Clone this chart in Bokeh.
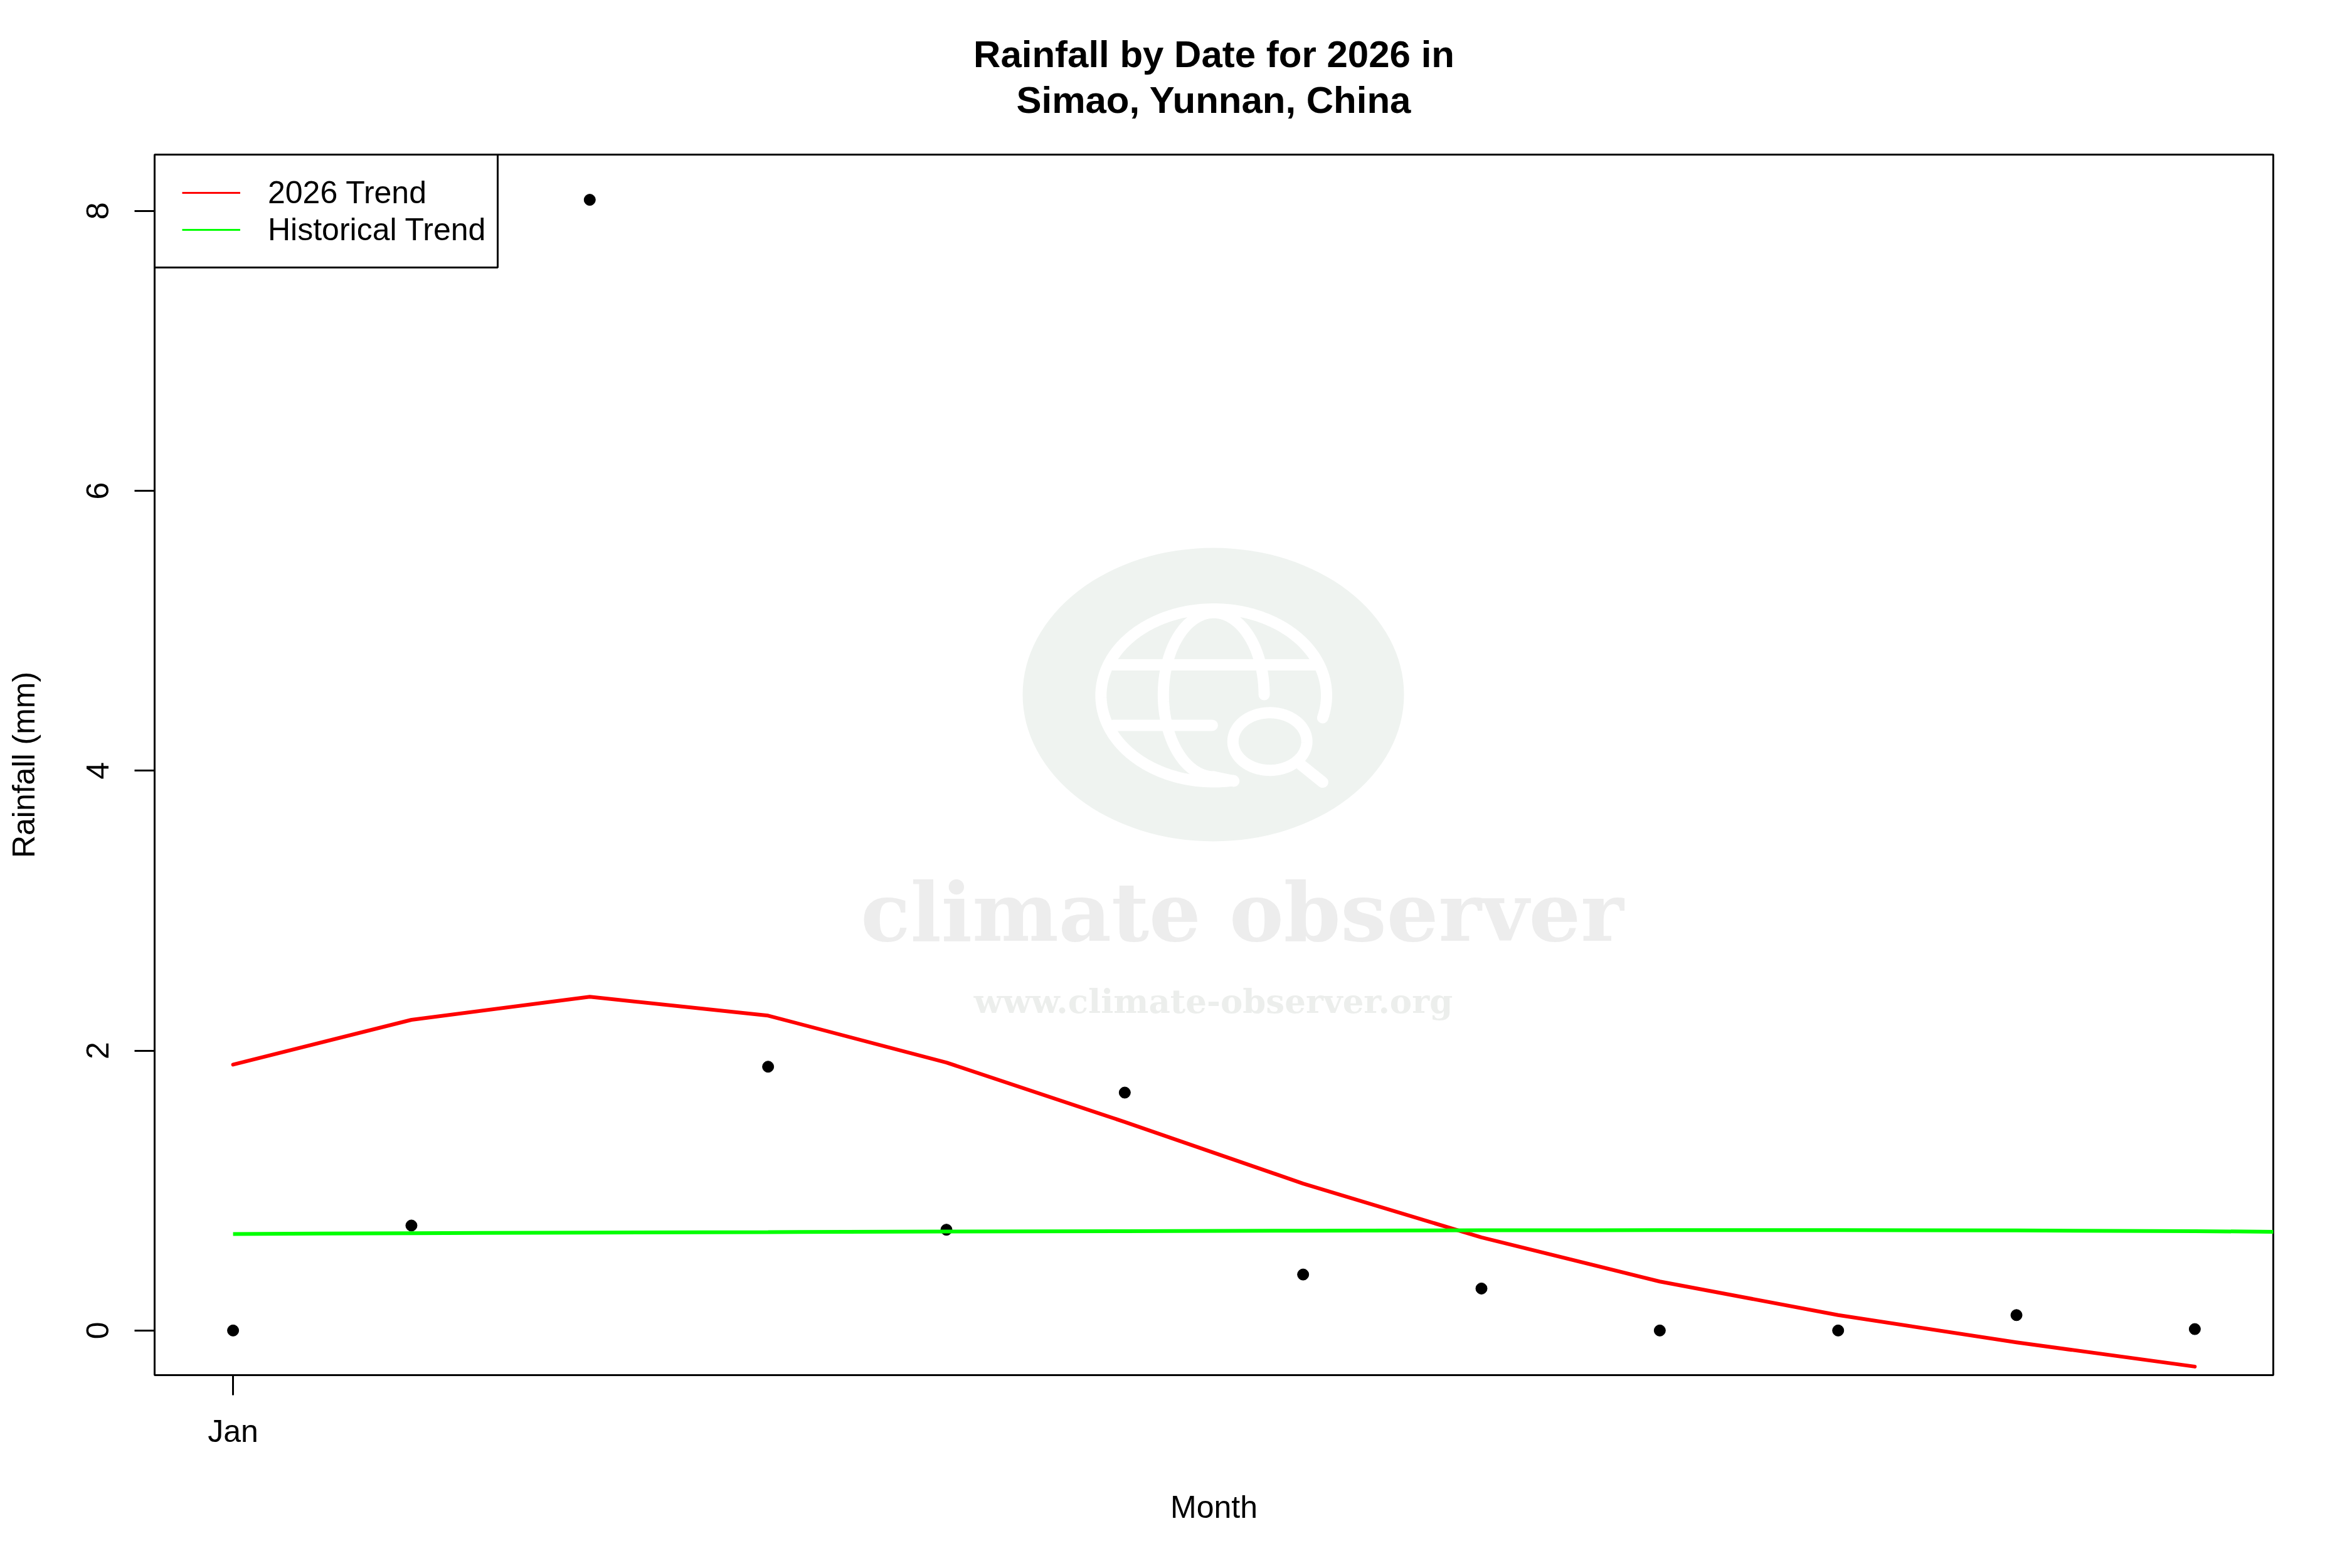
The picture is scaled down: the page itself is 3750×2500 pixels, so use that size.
import numpy as np
from bokeh.core.properties import value
from bokeh.embed import file_html
from bokeh.models import BoxAnnotation, FixedTicker, Legend, LegendItem, Range1d, Title
from bokeh.plotting import figure
from bokeh.resources import INLINE

TITLE_LINES = ["Rainfall by Date for 2026 in", "Simao, Yunnan, China"]
months = ["Jan", "Feb", "Mar", "Apr", "May", "Jun", "Jul", "Aug", "Sep", "Oct", "Nov", "Dec"]
month_pos = [0, 1, 2, 3, 4, 5, 6, 7, 8, 9, 10, 11]
rainfall = [0.0, 0.75, 8.08, 1.885, 0.72, 1.70, 0.40, 0.30, 0.0, 0.0, 0.11, 0.01]
trend_2026 = [1.90, 2.22, 2.385, 2.25, 1.915, 1.49, 1.05, 0.665, 0.35, 0.11, -0.085, -0.258]
hist_pos = [0, 1, 2, 3, 4, 5, 6, 7, 8, 9, 10, 11, 12]
trend_hist = [0.69, 0.695, 0.70, 0.703, 0.707, 0.71, 0.713, 0.716, 0.717, 0.717, 0.715, 0.71, 0.70]

FONT = "Liberation Sans"
X0, X1, Y0, Y1 = -0.44, 11.44, -0.319, 8.403
L, R, T, B = 246.0, 3624.0, 246.0, 2192.0

p = figure(width=3742, height=2492, output_backend="svg", toolbar_location=None,
           x_range=Range1d(X0, X1), y_range=Range1d(Y0, Y1),
           min_border_left=246, min_border_right=118, min_border_top=246, min_border_bottom=300,
           x_axis_label="Month", y_axis_label="Rainfall (mm)", background_fill_color="white")
p.grid.visible = False
p.outline_line_color = "black"
p.outline_line_width = 3
p.outline_line_alpha = 1


def style_title(t, text, standoff):
    t.text = text
    t.align = "center"
    t.text_font = FONT
    t.text_font_size = "60px"
    t.text_font_style = "bold"
    t.text_color = "black"
    t.standoff = standoff


style_title(p.title, TITLE_LINES[0], 8)
# An empty spacer between the title block and the frame: sets how high the two lines sit.
p.add_layout(Title(text=" ", text_font_size="10px", standoff=41), "above")
second_line = Title()
style_title(second_line, TITLE_LINES[1], 0)
p.add_layout(second_line, "above")

for ax in (p.xaxis[0], p.yaxis[0]):
    ax.axis_line_color = None
    ax.major_tick_line_color = "black"
    ax.major_tick_line_width = 3
    ax.major_tick_out = 32
    ax.major_tick_in = 0
    ax.minor_tick_line_color = None
    ax.major_label_text_font = FONT
    ax.major_label_text_font_size = "50px"
    ax.major_label_text_color = "black"
    ax.axis_label_text_font = FONT
    ax.axis_label_text_font_size = "50px"
    ax.axis_label_text_font_style = "normal"
    ax.axis_label_text_color = "black"

p.xaxis[0].ticker = FixedTicker(ticks=[month_pos[0]])
p.xaxis[0].major_label_overrides = {month_pos[0]: months[0]}
p.xaxis[0].major_label_standoff = 29
p.xaxis[0].axis_label_standoff = 62
p.yaxis[0].ticker = FixedTicker(ticks=[0, 2, 4, 6, 8])
p.yaxis[0].major_label_orientation = "vertical"
p.yaxis[0].major_label_standoff = 41
p.yaxis[0].axis_label_standoff = 70


# Watermark: drawn behind everything, placed from its pixel layout on the page.
def wx(px):
    return X0 + (np.asarray(px, dtype=float) - L) / (R - L) * (X1 - X0)


def wy(py):
    return Y1 - (np.asarray(py, dtype=float) - T) / (B - T) * (Y1 - Y0)


def zx(z):
    return 1500 + np.asarray(z, dtype=float) / 1.3067


def zy(z):
    return 800 + np.asarray(z, dtype=float) / 1.742


def arc(cx, cy, rx, ry, t0, t1):
    t = np.radians(np.linspace(t0, t1, 160))
    return wx(zx(cx + rx * np.cos(t))), wy(zy(cy + ry * np.sin(t)))


p.ellipse(x=[float(wx(1934))], y=[float(wy(1107))],
          width=[608 / (R - L) * (X1 - X0)], height=[468 / (B - T) * (Y1 - Y0)],
          fill_color="#EFF3F0", line_color=None, level="underlay")
paths = [
    arc(568, 537, 235, 240, 15, -280),
    arc(568, 535, 105, 228, 0, -270),
    arc(685, 665, 77, 80, 0, 360),
    (wx(zx([358, 780])), wy(zy([452, 452]))),
    (wx(zx([358, 565])), wy(zy([620, 620]))),
    (wx(zx([750, 795])), wy(zy([730, 778]))),
    (wx(zx([568, 610])), wy(zy([763, 775]))),
]
p.multi_line([list(a) for a, _ in paths], [list(b) for _, b in paths],
             line_color="white", line_width=18, line_cap="round", level="underlay")
p.text(x=[float(wx(1980))], y=[float(wy(1454))], text=["climate observer"],
       text_font=value("DejaVu Serif"), text_font_style="bold", text_font_size="130px",
       text_color="#EDEDED", text_align="center", text_baseline="alphabetic", level="underlay")
p.text(x=[float(wx(1934))], y=[float(wy(1595))], text=["www.climate-observer.org"],
       text_font=value("DejaVu Serif"), text_font_style="bold", text_font_size="53px",
       text_color="#ECEEEC", text_align="center", text_baseline="alphabetic", level="underlay")

p.scatter(month_pos, rainfall, size=18, color="black", marker="circle")
p.line(month_pos, trend_2026, line_color="#FF0000", line_width=6, line_cap="round", line_join="round")
p.line(hist_pos, trend_hist, line_color="#00FF00", line_width=6)

# Legend box as in R: drawn first, then the entries with their thin keys.
box = BoxAnnotation(left=0, right=547, top=1946, bottom=1766,
                    left_units="screen", right_units="screen", top_units="screen", bottom_units="screen",
                    fill_color="white", fill_alpha=1, line_color="black", line_width=3, line_alpha=1,
                    level="annotation", editable=False)
p.add_layout(box)
key_red = p.line([float("nan")], [float("nan")], line_color="#FF0000", line_width=3)
key_green = p.line([float("nan")], [float("nan")], line_color="#00FF00", line_width=3)
legend = Legend(items=[LegendItem(label="2026 Trend", renderers=[key_red]),
                       LegendItem(label="Historical Trend", renderers=[key_green])],
                location=(11, 1764), margin=0, padding=33, spacing=1,
                glyph_width=93, glyph_height=32, label_height=32, label_standoff=44,
                label_text_font=FONT, label_text_font_size="50px", label_text_color="black",
                label_text_baseline="middle",
                background_fill_alpha=0, border_line_alpha=0, click_policy="none")
p.add_layout(legend, "center")

open("out.html", "w").write(file_html(p, INLINE))
